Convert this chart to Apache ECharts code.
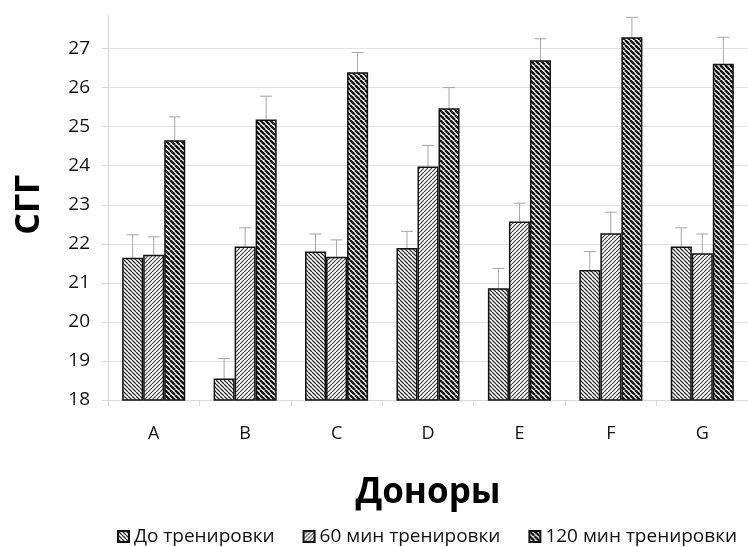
<!DOCTYPE html>
<html>
	<head>
		<meta charset="utf-8">
		<title>СГГ по донорам</title>
		<script src="https://cdn.jsdelivr.net/npm/echarts@6/dist/echarts.min.js"></script>
	</head>
	<body style="margin:0">
		<div id="box" style="width: 748px;height: 547px;"></div>
		<script>
			var donors = ['A', 'B', 'C', 'D', 'E', 'F', 'G']
			var seriesNames = ['До тренировки', '60 мин тренировки', '120 мин тренировки']
			var before = [21.64, 18.55, 21.80, 21.89, 20.86, 21.33, 21.93]
			var after60 = [21.72, 21.93, 21.67, 23.98, 22.57, 22.27, 21.76]
			var after120 = [24.65, 25.18, 26.39, 25.47, 26.70, 27.29, 26.61]
			// верхние усы ошибок
			var errBefore = [0.59, 0.51, 0.45, 0.43, 0.51, 0.47, 0.48]
			var err60 = [0.46, 0.48, 0.43, 0.54, 0.47, 0.54, 0.49]
			var err120 = [0.60, 0.60, 0.51, 0.53, 0.55, 0.51, 0.68]
			var yTicks = [18, 19, 20, 21, 22, 23, 24, 25, 26, 27, 28]

			var font = 'Open Sans'
			var catGap = 0.31

			// штриховка
			function hatch(dir, lineW, color, size) {
				var c = document.createElement('canvas')
				c.width = size
				c.height = size
				var ctx = c.getContext('2d')
				ctx.fillStyle = '#fff'
				ctx.fillRect(0, 0, size, size)
				ctx.strokeStyle = color
				ctx.lineWidth = lineW
				ctx.beginPath()
				;[-size, 0, size].forEach(function(k) {
					if (dir === '\\') {
						ctx.moveTo(k, 0)
						ctx.lineTo(k + size, size)
					} else {
						ctx.moveTo(k, size)
						ctx.lineTo(k + size, 0)
					}
				})
				ctx.stroke()
				return c
			}

			var patterns = [
				{ image: hatch('\\', 1.3, '#333', 4), repeat: 'repeat' },
				{ image: hatch('/', 1.2, '#444', 4), repeat: 'repeat' },
				{ image: hatch('\\', 2.3, '#111', 5), repeat: 'repeat' }
			]
			var values = [before, after60, after120]
			var errs = [errBefore, err60, err120]

			var errData = []
			values.forEach(function(arr, si) {
				arr.forEach(function(v, i) {
					errData.push([i, v, errs[si][i], si])
				})
			})

			function renderErr(params, api) {
				var bw = api.size([1, 0])[0]
				var barW = bw * (1 - catGap) / 3
				var si = api.value(3)
				var p0 = api.coord([api.value(0), api.value(1)])
				var p1 = api.coord([api.value(0), api.value(1) + api.value(2)])
				var x = p0[0] + (si - 1) * barW
				var st = { stroke: '#a6a6a6', lineWidth: 1 }
				return {
					type: 'group',
					children: [
						{ type: 'line', shape: { x1: x, y1: p0[1], x2: x, y2: p1[1] }, style: st },
						{ type: 'line', shape: { x1: x - 6, y1: p1[1], x2: x + 6, y2: p1[1] }, style: st }
					]
				}
			}

			var mCharts = echarts.init(document.querySelector('#box'))

			var series = values.map(function(arr, si) {
				return {
					name: seriesNames[si],
					type: 'bar',
					data: arr,
					barGap: '0%',
					barCategoryGap: (catGap * 100) + '%',
					itemStyle: { color: patterns[si], borderColor: '#111', borderWidth: 1.5 }
				}
			})
			series.push({
				type: 'custom',
				renderItem: renderErr,
				data: errData,
				encode: { x: 0, y: 1 },
				silent: true,
				z: 1
			})

			var option = {
				animation: false,
				backgroundColor: '#fff',
				textStyle: { fontFamily: font },
				grid: { left: 108, right: 0, top: 8, bottom: 147 },
				legend: {
					data: seriesNames,
					top: 527,
					left: 117,
					padding: 0,
					icon: 'rect',
					itemWidth: 11,
					itemHeight: 11,
					itemGap: 28,
					textStyle: { fontSize: 19, color: '#111', fontFamily: font }
				},
				xAxis: {
					type: 'category',
					data: donors,
					name: 'Доноры',
					nameLocation: 'middle',
					nameGap: 76,
					nameTextStyle: { fontSize: 35, fontWeight: 'bold', color: '#000', fontFamily: font },
					axisLine: { lineStyle: { color: '#d9d9d9' } },
					axisTick: { show: true, length: 6, lineStyle: { color: '#d9d9d9' } },
					axisLabel: { fontSize: 18, color: '#111', margin: 25 }
				},
				yAxis: {
					type: 'value',
					min: yTicks[0],
					max: yTicks[yTicks.length - 1],
					interval: 1,
					name: 'СГГ',
					nameLocation: 'middle',
					nameGap: 62,
					nameTextStyle: { fontSize: 34, fontWeight: 'bold', color: '#000', fontFamily: font },
					axisLine: { show: true, lineStyle: { color: '#d9d9d9' } },
					axisTick: { show: true, length: 6, lineStyle: { color: '#d9d9d9' } },
					splitLine: { lineStyle: { color: '#e3e3e3' } },
					axisLabel: { fontSize: 19, color: '#111', margin: 18 }
				},
				// картинка-образец обрезана сверху
				graphic: [{
					type: 'rect',
					left: 0,
					top: 0,
					z: 100,
					shape: { width: 748, height: 15 },
					style: { fill: '#fff' }
				}],
				series: series
			}
			mCharts.setOption(option)
		</script>
	</body>
</html>
